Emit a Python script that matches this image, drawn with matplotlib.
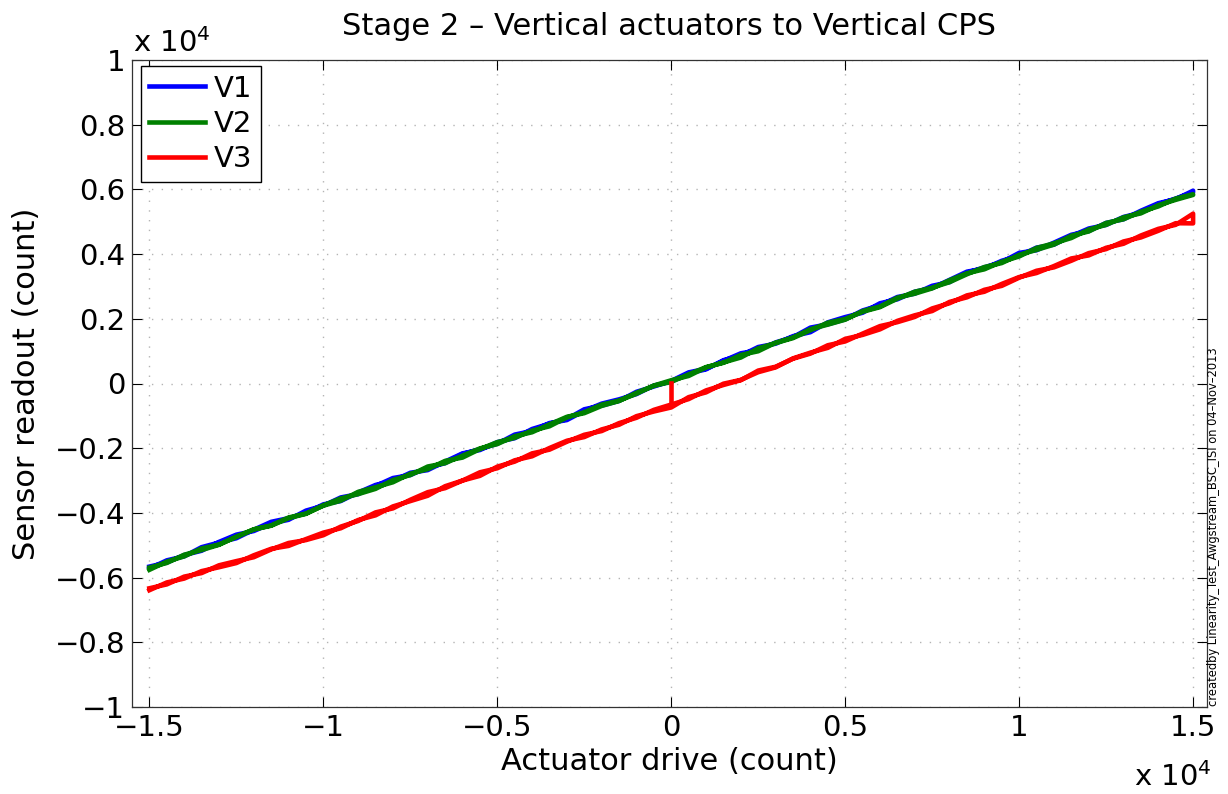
import matplotlib
matplotlib.use("Agg")
import matplotlib.pyplot as plt
from matplotlib.ticker import FuncFormatter, FixedLocator

plt.rcParams['font.family'] = ['DejaVu Sans']
plt.rcParams['mathtext.fontset'] = 'dejavusans'

drive = [-15000, -14500, -14000, -13500, -13000, -12500, -12000, -11500, -11000, -10500,
         -10000, -9500, -9000, -8500, -8000, -7500, -7000, -6500, -6000, -5500,
         -5000, -4500, -4000, -3500, -3000, -2500, -2000, -1500, -1000, -500,
         0, 500, 1000, 1500, 2000, 2500, 3000, 3500, 4000, 4500,
         5000, 5500, 6000, 6500, 7000, 7500, 8000, 8500, 9000, 9500,
         10000, 10500, 11000, 11500, 12000, 12500, 13000, 13500, 14000, 14500, 15000]

v1_up = [-5720, -5467, -5343, -5060, -4917, -4783, -4520, -4277, -4163, -4000,
         -3737, -3633, -3370, -3137, -3013, -2760, -2677, -2413, -2160, -2057,
         -1813, -1690, -1407, -1243, -1100, -797, -683, -540, -257, -93,
         80, 343, 457, 700, 933, 1027, 1270, 1433, 1727, 1830,
         1983, 2257, 2420, 2673, 2777, 3020, 3133, 3427, 3590, 3753,
         4037, 4120, 4353, 4597, 4710, 4963, 5077, 5340, 5573, 5697, 5960]
v1_down = [-5660, -5537, -5303, -5170, -4897, -4673, -4560, -4327, -4213, -3930,
           -3777, -3523, -3420, -3167, -2923, -2830, -2597, -2463, -2180, -2027,
           -1863, -1580, -1467, -1223, -1130, -847, -623, -490, -327, -63,
           60, 313, 437, 720, 863, 1127, 1230, 1463, 1587, 1890,
           2053, 2187, 2480, 2603, 2837, 2950, 3203, 3457, 3550, 3793,
           3947, 4200, 4293, 4557, 4790, 4903, 5147, 5280, 5543, 5717, 5910]
v2_up = [-5690, -5547, -5293, -5150, -4987, -4733, -4510, -4397, -4163, -4030,
         -3767, -3553, -3420, -3257, -2983, -2830, -2567, -2463, -2230, -2007,
         -1873, -1630, -1507, -1263, -1030, -917, -693, -540, -287, -73,
         50, 283, 507, 640, 883, 997, 1260, 1423, 1677, 1820,
         1973, 2237, 2380, 2653, 2777, 2940, 3193, 3407, 3530, 3763,
         3927, 4190, 4333, 4497, 4760, 4903, 5137, 5260, 5513, 5677, 5830]
v2_down = [-5760, -5507, -5343, -5100, -4977, -4743, -4510, -4387, -4143, -4020,
           -3777, -3623, -3350, -3207, -3053, -2790, -2647, -2393, -2290, -2027,
           -1813, -1680, -1457, -1323, -1050, -887, -653, -530, -317, -63,
           100, 233, 497, 650, 803, 1087, 1250, 1403, 1647, 1880,
           1993, 2217, 2360, 2623, 2837, 2960, 3133, 3377, 3600, 3723,
           3977, 4130, 4293, 4567, 4700, 4963, 5077, 5310, 5473, 5717, 5850]
v3_up = [-6330, -6210, -5970, -5860, -5620, -5490, -5370, -5130, -4930, -4840,
         -4690, -4425, -4250, -3985, -3860, -3595, -3360, -3235, -3000, -2855,
         -2570, -2415, -2160, -2045, -1800, -1585, -1470, -1225, -1060, -815,
         -650, -482, -214, -46, 102, 400, 518, 766, 924, 1182,
         1300, 1542, 1774, 1896, 2058, 2320, 2482, 2724, 2836, 3078,
         3290, 3415, 3630, 3865, 3960, 4195, 4320, 4575, 4780, 4905, 5250]
v3_down = [-6390, -6150, -6030, -5800, -5680, -5550, -5310, -5110, -5020, -4810,
           -4610, -4475, -4220, -4075, -3800, -3635, -3470, -3175, -3000, -2745,
           -2620, -2375, -2250, -1995, -1770, -1655, -1420, -1275, -1010, -865,
           -740, -422, -274, -6, 112, 350, 498, 776, 954, 1102,
           1380, 1502, 1674, 1936, 2108, 2240, 2522, 2664, 2896, 3018,
           3270, 3485, 3590, 3795, 4030, 4155, 4390, 4515, 4720, 4955, 4950]
v3_start_drive = 0
v3_start_value = 30

series = [("V1", v1_up, v1_down, "#0000ff"),
          ("V2", v2_up, v2_down, "#008000"),
          ("V3", v3_up, v3_down, "#ff0000")]

xticks = [-15000, -10000, -5000, 0, 5000, 10000, 15000]
yticks = [-10000, -8000, -6000, -4000, -2000, 0, 2000, 4000, 6000, 8000, 10000]

fig = plt.figure(figsize=(12.28, 7.94), dpi=100)
ax = fig.add_axes([132/1228, 1-707/794, 1075/1228, 647/794])

for name, up, down, col in series:
    xs = drive + drive[::-1]
    ys = up + down[::-1]
    ax.plot(xs, ys, color=col, lw=3.3, label=name, solid_joinstyle='round')
    if name == "V3":
        ax.plot([v3_start_drive, v3_start_drive], [v3_start_value, up[drive.index(v3_start_drive)]],
                color=col, lw=3.3)

ax.set_xlim(-15500, 15400)
ax.set_ylim(-10000, 10000)
ax.xaxis.set_major_locator(FixedLocator(xticks))
ax.yaxis.set_major_locator(FixedLocator(yticks))

def fmt(v, pos):
    s = "%g" % (v / 1e4)
    return s.replace("-", "\u2212")

ax.xaxis.set_major_formatter(FuncFormatter(fmt))
ax.yaxis.set_major_formatter(FuncFormatter(fmt))
ax.tick_params(direction='in', length=7, width=0.8, labelsize=21, top=True, right=True, pad=5)
ax.grid(True, linestyle=(0, (1, 6)), color='#b4b4b4', lw=1.0)
for sp in ax.spines.values():
    sp.set_linewidth(0.9)
    sp.set_color('#333333')

ax.set_title("Stage 2 \u2013 Vertical actuators to Vertical CPS", fontsize=22, pad=18)
ax.set_xlabel("Actuator drive (count)", fontsize=22)
ax.set_ylabel("Sensor readout (count)", fontsize=22)
ax.xaxis.set_label_coords(0.5, (707-762)/647)
ax.yaxis.set_label_coords((27-132)/1075, 0.5)
ax.xaxis.label.set_verticalalignment('center')
ax.yaxis.label.set_verticalalignment('center')

leg = ax.legend(loc='upper left', bbox_to_anchor=(0.008, 0.991), borderaxespad=0,
                fontsize=21, handlelength=1.9, handletextpad=0.3, labelspacing=0.25,
                borderpad=0.3, fancybox=False, framealpha=1)
leg.get_frame().set_edgecolor('black')
leg.get_frame().set_linewidth(1.0)

fig.text(133/1228, 1-52/794, r"x 10$^{4}$", fontsize=21, ha='left', va='baseline')
fig.text(1212/1228, 1-786/794, r"x 10$^{4}$", fontsize=21, ha='right', va='baseline')
fig.text(1214/1228, 1-706/794, "createdby Linearity_Test_Awgstream_BSC_ISI on 04\u2013Nov\u20132013",
         fontsize=8.3, rotation=90, ha='center', va='bottom')

fig.savefig("out.png", dpi=100)
